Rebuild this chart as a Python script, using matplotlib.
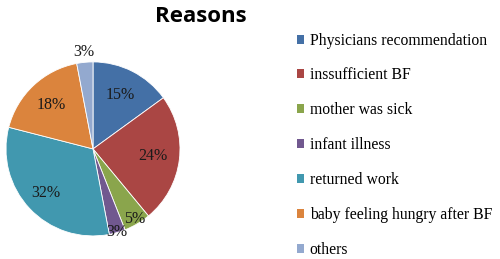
import numpy as np
import matplotlib
matplotlib.use("Agg")
import matplotlib.pyplot as plt
from matplotlib.patches import Patch

# ====== 数据 ======
reasons = ["Physicians recommendation", "inssufficient BF", "mother was sick",
           "infant illness", "returned work", "baby feeling hungry after BF", "others"]
shares = [15, 24, 5, 3, 32, 18, 3]
colors = ["#4470A6", "#AA4644", "#8AA54C", "#71588F", "#4198AF", "#DB843D", "#93A9CF"]
# label distance (fraction of radius) per slice
label_dist = [0.69, 0.69, 0.94, 1.0, 0.74, 0.70, 1.12]

fig = plt.figure(figsize=(5.0, 2.59), dpi=100)
ax = fig.add_axes([0.012, 0.089, 0.348, 0.672])

wedges, _ = ax.pie(shares, colors=colors, startangle=90, counterclock=False,
                   wedgeprops=dict(edgecolor="white", linewidth=0.6))
ax.set_xlim(-1, 1)
ax.set_ylim(-1, 1)

for w, v, d in zip(wedges, shares, label_dist):
    mid = np.deg2rad((w.theta1 + w.theta2) / 2)
    ax.text(d * np.cos(mid), d * np.sin(mid), f"{v}%", ha="center", va="center",
            family="Liberation Serif", fontsize=11.5, color="#1a1a1a")

fig.text(0.401, 0.935, "Reasons", ha="center", va="center",
         family="Open Sans", fontweight="bold", fontsize=16, color="black")

handles = [Patch(facecolor=c, edgecolor="none") for c in colors]
fig.legend(handles, reasons, loc="upper left", bbox_to_anchor=(0.593, 0.874),
           frameon=False, prop=dict(family="Liberation Serif", size=11.3),
           handlelength=0.5, handleheight=0.5, handletextpad=0.35,
           labelspacing=1.2, borderaxespad=0, borderpad=0)

plt.savefig("out.png", dpi=100)
plt.close()
